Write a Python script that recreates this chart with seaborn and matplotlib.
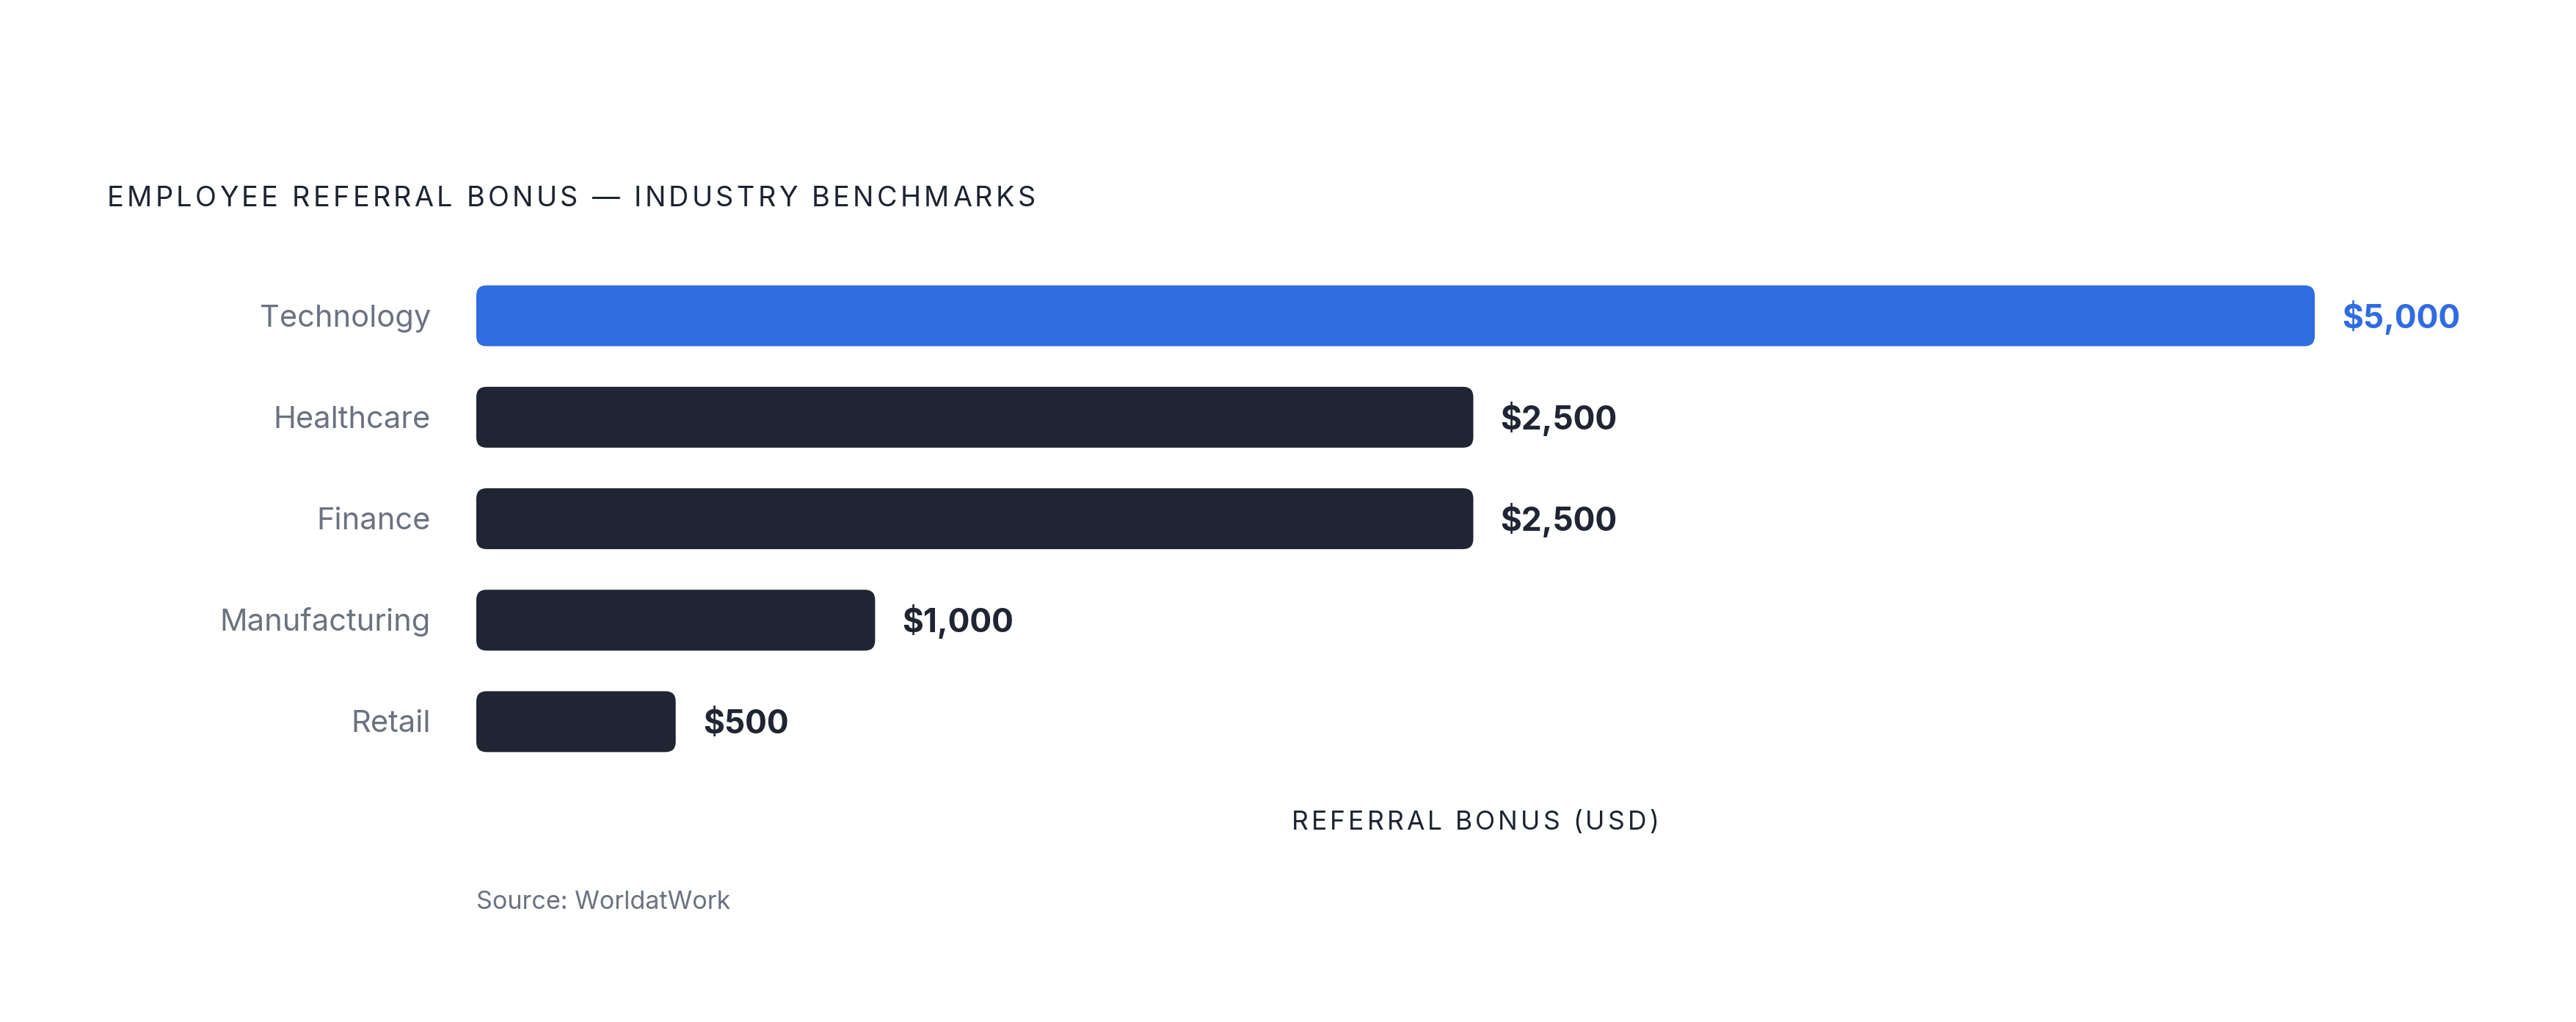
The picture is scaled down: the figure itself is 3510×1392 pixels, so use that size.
import matplotlib
matplotlib.use("Agg")
import matplotlib.pyplot as plt
import seaborn as sns
import pandas as pd
from matplotlib.patches import FancyBboxPatch
from matplotlib.font_manager import FontProperties, findfont
from matplotlib.ft2font import FT2Font

# ---------------- data ----------------
industries = ["Technology", "Healthcare", "Finance", "Manufacturing", "Retail"]
bonus_usd = [5000, 2500, 2500, 1000, 500]
value_labels = ["$5,000", "$2,500", "$2,500", "$1,000", "$500"]
highlight = ["yes", "no", "no", "no", "no"]

TITLE = "EMPLOYEE REFERRAL BONUS — INDUSTRY BENCHMARKS"
XLABEL = "REFERRAL BONUS (USD)"
SOURCE = "Source: WorldatWork"

# ---------------- style ----------------
BLUE = "#2f6ce1"
DARK = "#1f2532"
GRAY = "#6b7280"
INK = "#1c2331"
FAMILY = ["Inter", "DejaVu Sans"]

W, H, DPI = 3510, 1392, 100
BAR_CAP = 4610          # bars are clamped so the longest label fits the canvas
RADIUS_PX = 14

sns.set_theme(style="white")
plt.rcParams["font.family"] = FAMILY

fig = plt.figure(figsize=(W / DPI, H / DPI), dpi=DPI)
fig.patch.set_facecolor("white")
ax = fig.add_axes([649 / W, 1 - 1052 / H, 2717 / W, 691 / H])

df = pd.DataFrame({"industry": industries, "bonus": bonus_usd, "highlight": highlight})
sns.barplot(data=df, y="industry", x="bonus", hue="highlight", order=industries,
            hue_order=["yes", "no"], palette={"yes": BLUE, "no": DARK},
            saturation=1, dodge=False, width=0.6, legend=False, orient="h", ax=ax)

ax.set_xlim(0, 5000)
ax.set_ylim(len(industries) - 0.5, -0.5)
ax.set_xlabel("")
ax.set_ylabel("")
ax.set_xticks([])
ax.set_yticks([])
for s in ax.spines.values():
    s.set_visible(False)
ax.set_facecolor("none")

# rounded bars (replace seaborn rectangles, same geometry)
px_x = 2717 / 5000
px_y = 691 / len(industries)
aspect = px_x / px_y
r = RADIUS_PX / px_x
PT = 72 / DPI
bars = list(ax.patches)
for p in bars:
    x0, y0, w, h = p.get_x(), p.get_y(), p.get_width(), p.get_height()
    if not (w > 0):
        p.remove()
        continue
    fc = p.get_facecolor()
    p.remove()
    wd = min(w, BAR_CAP)
    ax.add_patch(FancyBboxPatch((x0, y0), wd, h,
                                boxstyle=f"round,pad=0,rounding_size={r}",
                                mutation_aspect=aspect, fc=fc, ec="none"))
    idx = int(round(y0 + h / 2))
    col = BLUE if highlight[idx] == "yes" else DARK
    ax.annotate(value_labels[idx], xy=(wd, y0 + h / 2), xytext=(37 * PT, -16.5 * PT),
                textcoords="offset points", ha="left", va="baseline",
                fontsize=31.8, fontweight="bold", color=col)

# category labels
for i, name in enumerate(industries):
    ax.annotate(name, xy=(0, i), xytext=(-62 * PT, -14.5 * PT), textcoords="offset points",
                ha="right", va="baseline", fontsize=30, color=GRAY)


# tracked (letter-spaced) text helper
def tracked(s, x_px, y_px, size, color, track_em, align="left"):
    fp = FontProperties(family=FAMILY)
    font = FT2Font(findfont(fp))
    font.set_size(size, DPI)
    size_px = size / PT
    advs = []
    for ch in s:
        g = font.load_char(ord(ch))
        advs.append(g.linearHoriAdvance / 65536 + track_em * size_px)
    total = sum(advs) - track_em * size_px
    x = x_px - total / 2 if align == "center" else x_px
    for ch, a in zip(s, advs):
        if ch != " ":
            fig.text(x / W, 1 - y_px / H, ch, fontsize=size, color=color,
                     ha="left", va="baseline")
        x += a
    return total


tracked(TITLE, 146, 281, 27.2, INK, 0.115)
tracked(XLABEL, 2010, 1130, 25.5, INK, 0.115, align="center")

fig.text(649 / W, 1 - 1238 / H, SOURCE, fontsize=24.6, color=GRAY, ha="left", va="baseline")

fig.savefig("out.png", dpi=DPI, facecolor="white")
